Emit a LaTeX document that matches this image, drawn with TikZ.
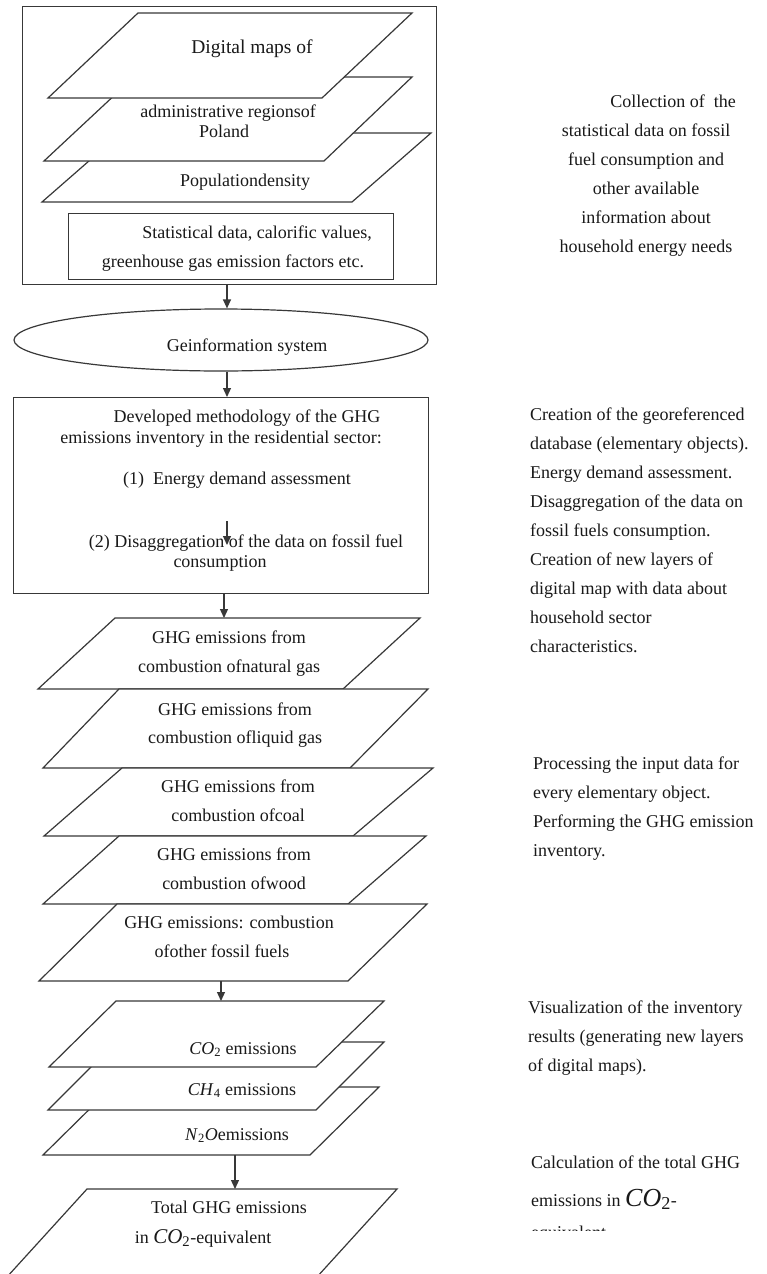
\documentclass[tikz,border=0pt]{standalone}
\usepackage{fontspec}
\setmainfont{Liberation Serif}
\usetikzlibrary{arrows.meta,shapes.geometric}
\definecolor{ln}{gray}{0.22}
\definecolor{txt}{gray}{0.1}
\newcommand{\mychem}[2]{\textit{#1}\textsubscript{#2}}
\begin{document}
\begin{tikzpicture}[x=1pt,y=-1pt,
  shp/.style={draw=ln,line width=1.2pt,fill=white,line join=miter},
  lbl/.style={anchor=base,inner sep=0pt,text=txt,font=\fontsize{18}{22}\selectfont},
  lblw/.style={lbl,anchor=base west},
  arr/.style={draw=ln,line width=1.2pt,-{Triangle[length=9pt,width=8pt]}}]
\useasboundingbox (0,0) rectangle (767,1274);
\clip (0,0) rectangle (767,1274);
\fill[white] (0,0) rectangle (767,1274);

% ---------- top group ----------
\node[shp,rectangle,minimum width=414pt,minimum height=278pt,inner sep=0pt,anchor=north west] (outer) at (22,6) {};
\draw[shp] (121,133) -- (431,133) -- (352,202) -- (42,202) -- cycle;
\draw[shp] (134,77) -- (412,77) -- (324,161) -- (44,161) -- cycle;
\draw[shp] (138,13) -- (412,13) -- (322,98) -- (48,98) -- cycle;
\node[shp,rectangle,minimum width=325pt,minimum height=66pt,inner sep=0pt,anchor=north west] (stat) at (68,213) {};

\node[lbl,font=\fontsize{19.5}{22}\selectfont] (t1) at (252,53) {Digital maps of};
\node[lbl] (t2) at (228,117) {administrative regionsof};
\node[lbl] (t3) at (224,137) {Poland};
\node[lbl] (t4) at (245,186) {Populationdensity};
\node[lbl] (t5) at (257,238) {Statistical data, calorific values,};
\node[lbl] (t6) at (233,267) {greenhouse gas emission factors etc.};

% ---------- GIS ----------
\coordinate (ax) at (227,0);
\node[shp,ellipse,minimum width=414pt,minimum height=62pt,inner sep=0pt] (gis) at (221,340) {};
\node[lbl] (t7) at (247,351) {Geinformation system};

% ---------- methodology ----------
\node[shp,rectangle,minimum width=415pt,minimum height=196pt,inner sep=0pt,anchor=north west] (meth) at (13,397) {};
\node[lbl] (t8) at (247,422) {Developed methodology of the GHG};
\node[lbl] (t9) at (221,443) {emissions inventory in the residential sector:};
\node[lbl] (t10) at (237,484) {(1)\ \ Energy demand assessment};
\node[lbl] (t11) at (246,547) {(2) Disaggregation of the data on fossil fuel};
\node[lbl] (t12) at (220,567) {consumption};
\coordinate (i1) at (227,521);
\coordinate (i2) at (227,545);

% ---------- fuel layers ----------
\draw[shp] (115,618) -- (420,618) -- (343,689) -- (38,689) -- cycle;
\draw[shp] (119,689) -- (428,689) -- (350,768) -- (43,768) -- cycle;
\draw[shp] (122,768) -- (433,768) -- (353,836) -- (44,836) -- cycle;
\draw[shp] (119,836) -- (426,836) -- (348,904) -- (43,904) -- cycle;
\draw[shp] (117,904) -- (427,904) -- (348,981) -- (39,981) -- cycle;
\coordinate (p4t) at (224,618);
\coordinate (p8b) at (221,981);

\node[lbl] (f1a) at (229,643) {GHG emissions from};
\node[lbl] (f1b) at (229,672) {combustion ofnatural gas};
\node[lbl] (f2a) at (235,715) {GHG emissions from};
\node[lbl] (f2b) at (235,743) {combustion ofliquid gas};
\node[lbl] (f3a) at (238,792) {GHG emissions from};
\node[lbl] (f3b) at (238,821) {combustion ofcoal};
\node[lbl] (f4a) at (234,860) {GHG emissions from};
\node[lbl] (f4b) at (234,889) {combustion ofwood};
\node[lbl] (f5a) at (229,928) {GHG emissions: combustion};
\node[lbl] (f5b) at (222,957) {ofother fossil fuels};

% ---------- gas layers ----------
\draw[shp] (112,1087) -- (379,1087) -- (310,1155) -- (43,1155) -- cycle;
\draw[shp] (116,1042) -- (384,1042) -- (316,1110) -- (48,1110) -- cycle;
\draw[shp] (116,1001) -- (384,1001) -- (316,1067) -- (49,1067) -- cycle;
\coordinate (p9t) at (221,1001);
\coordinate (p11b) at (235,1155);
\node[lbl] (g1) at (243,1054) {\mychem{CO}{2} emissions};
\node[lbl] (g2) at (242,1095) {\mychem{CH}{4} emissions};
\node[lbl] (g3) at (237,1140) {\textit{N}\textsubscript{2}\textit{O}emissions};

% ---------- total ----------
\draw[shp] (87,1189) -- (397,1189) -- (296,1300) -- (-14,1300) -- cycle;
\coordinate (p12t) at (235,1189);
\node[lbl] (h1) at (229,1213) {Total GHG emissions};
\node[lbl] (h2) at (203,1243) {in {\fontsize{21}{24}\selectfont\mychem{CO}{2}}-equivalent};

% ---------- connectors ----------
\draw[arr] (outer.south -| ax) -- (gis.north -| ax);
\draw[arr] (gis.south -| ax) -- (meth.north -| ax);
\draw[arr] (i1) -- (i2);
\draw[arr] (meth.south -| p4t) -- (p4t);
\draw[arr] (p8b) -- (p9t);
\draw[arr] (p11b) -- (p12t);

% ---------- right column ----------
\node[lbl] (r0) at (673,107) {Collection of\ \ the};
\foreach \s [count=\i from 0] in {{statistical data on fossil},{fuel consumption and},{other available},{information about},{household energy needs}}
  \node[lbl] (ra\i) at (646,{136+29*\i}) {\s};

\foreach \s [count=\i from 0] in {{Creation of the georeferenced},{database (elementary objects).},{Energy demand assessment.},{Disaggregation of the data on},{fossil fuels consumption.},{Creation of new layers of},{digital map with data about},{household sector},{characteristics.}}
  \node[lblw] (rb\i) at (530,{420+29*\i}) {\s};

\foreach \s [count=\i from 0] in {{Processing the input data for},{every elementary object.},{Performing the GHG emission},{inventory.}}
  \node[lblw] (rc\i) at (533,{769+29*\i}) {\s};

\foreach \s [count=\i from 0] in {{Visualization of the inventory},{results (generating new layers},{of digital maps).}}
  \node[lblw] (rd\i) at (528,{1013+29*\i}) {\s};

\node[lblw] (re0) at (531,1168) {Calculation of the total GHG};
\node[lblw] (re1) at (531,1206) {emissions in {\fontsize{26}{30}\selectfont\mychem{CO}{2}}-};
\begin{scope}
  \clip (520,1150) rectangle (767,1230);
  \node[lblw] (re2) at (531,1238) {equivalent};
\end{scope}
\end{tikzpicture}
\end{document}
